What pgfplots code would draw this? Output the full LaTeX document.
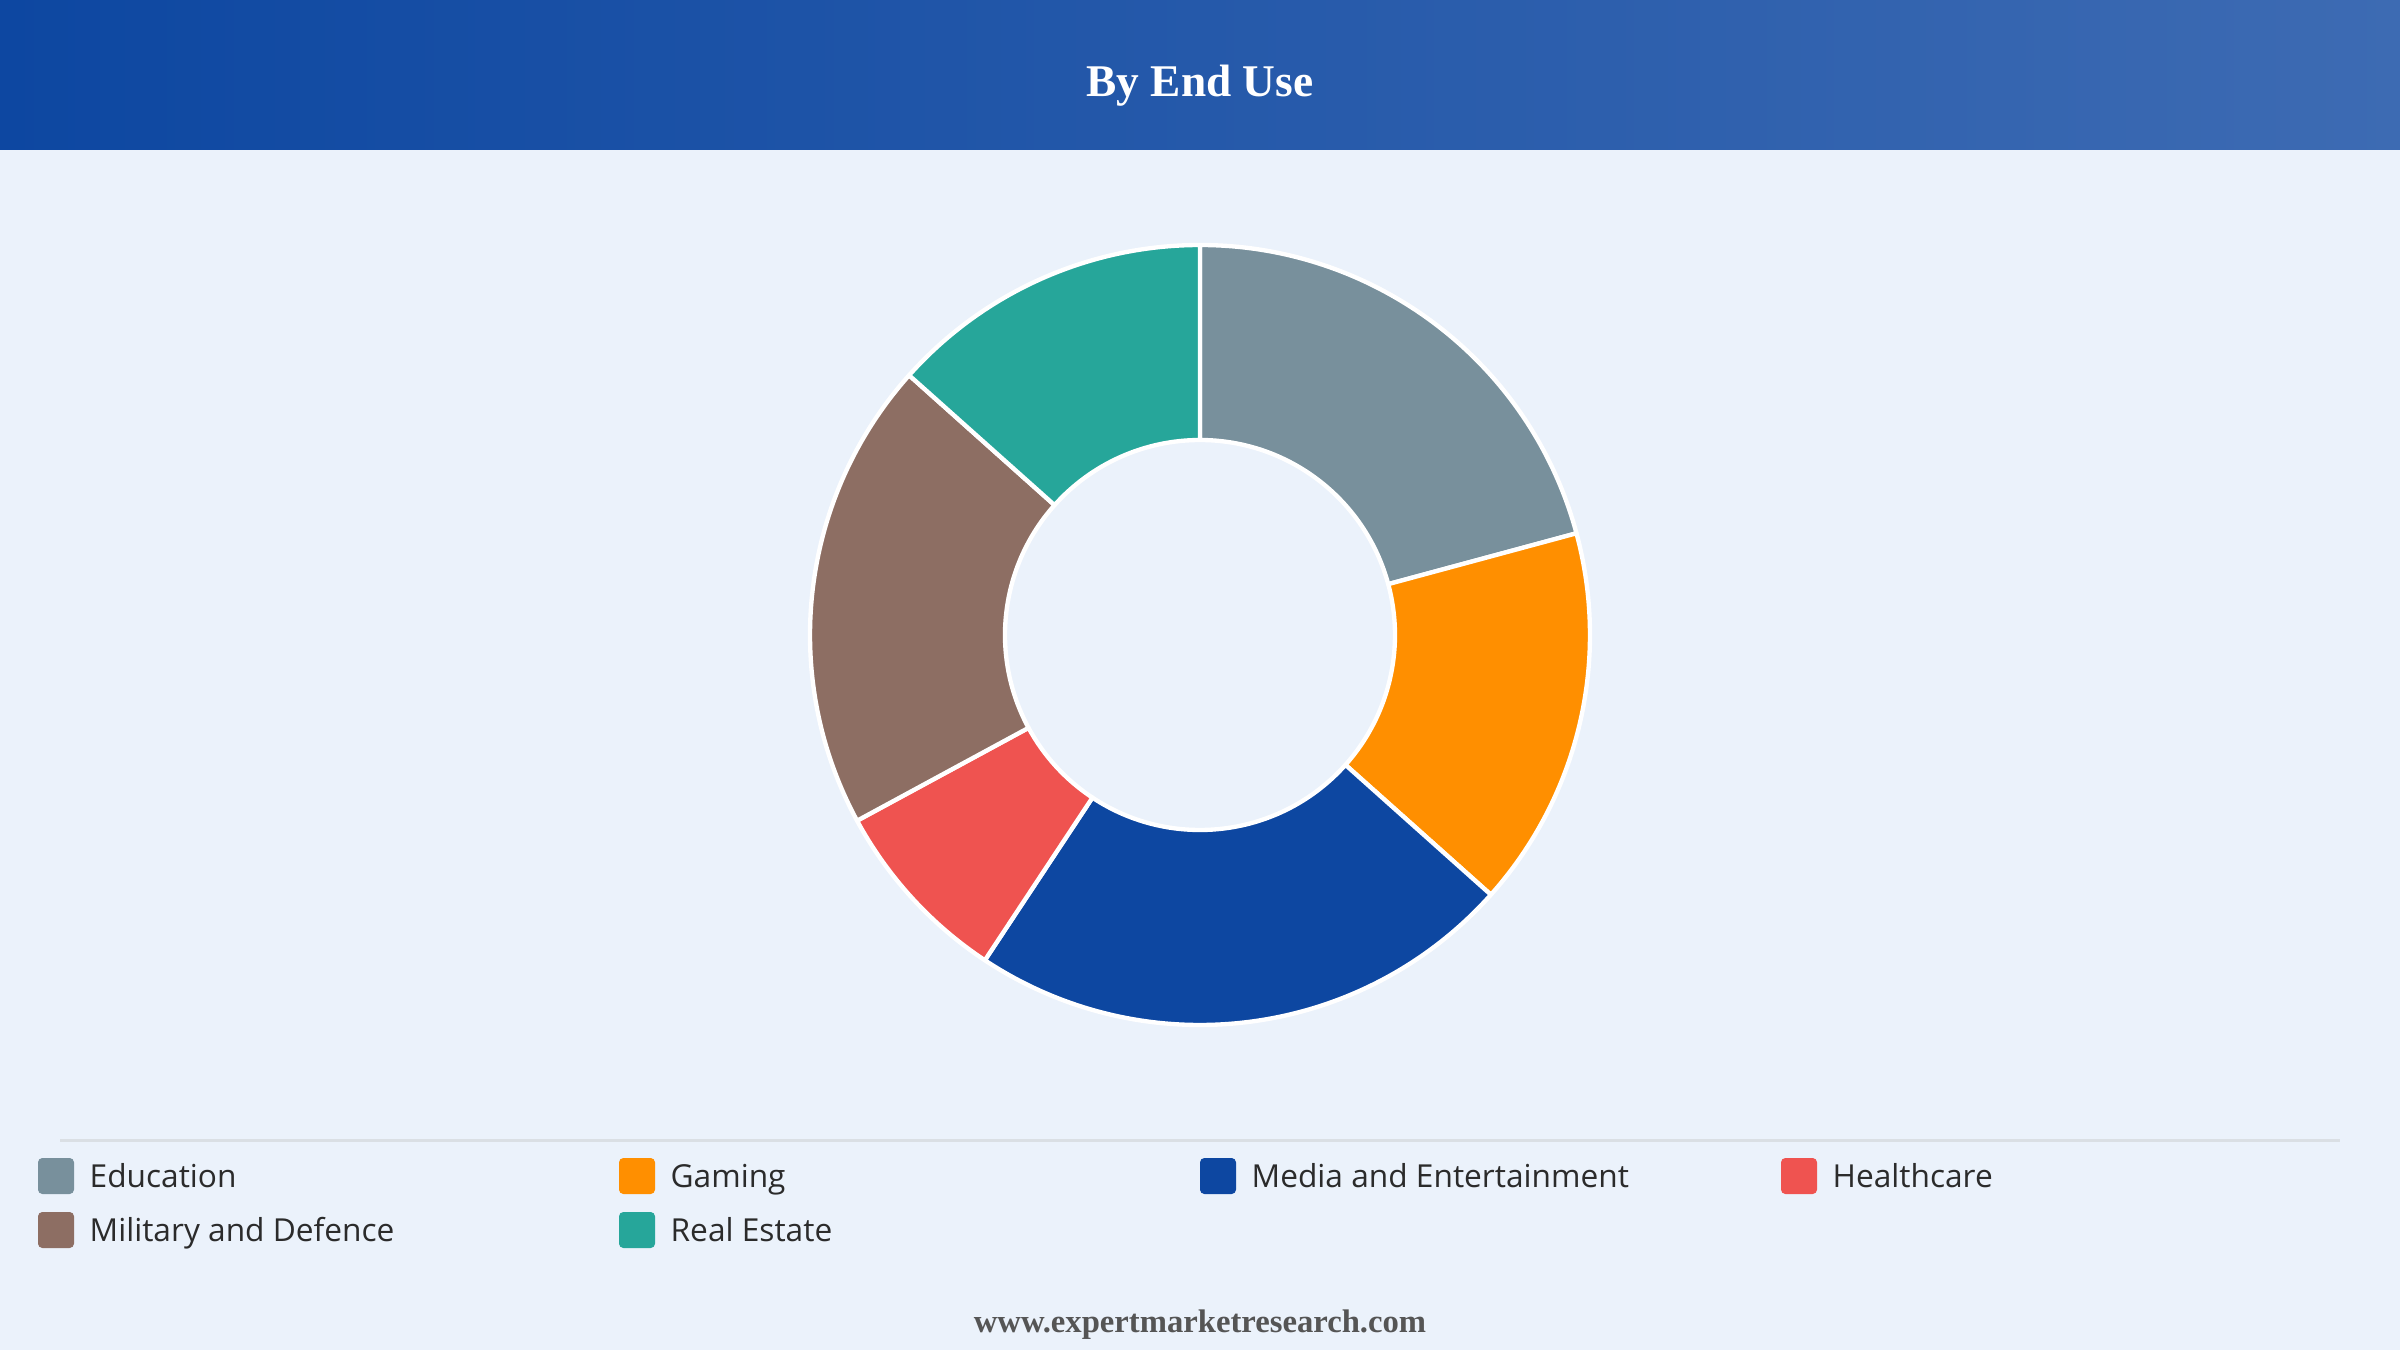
\documentclass[border=0pt]{standalone}
\usepackage{pgfplots}
\usepackage{pgfplotstable}
\pgfplotsset{compat=1.18}
\usepackage{fontspec}
\setmainfont{Liberation Serif}
\newfontfamily\legfont{Open Sans}

\definecolor{bgpage}{HTML}{EBF2FB}
\definecolor{headL}{HTML}{0D47A1}
\definecolor{headR}{HTML}{3D6BB3}
\definecolor{rule}{HTML}{DADFE4}
\definecolor{legtext}{HTML}{2B2B2B}
\definecolor{foot}{HTML}{555555}
\definecolor{seg0}{HTML}{78909C}
\definecolor{seg1}{HTML}{FF8F00}
\definecolor{seg2}{HTML}{0D47A1}
\definecolor{seg3}{HTML}{EF5350}
\definecolor{seg4}{HTML}{8D6E63}
\definecolor{seg5}{HTML}{26A69A}

% share of each end use, in percent
\pgfplotstableread[col sep=comma]{
label,value
Education,20.8
Gaming,15.8
Media and Entertainment,22.7
Healthcare,7.8
Military and Defence,19.5
Real Estate,13.4
}\enduse

% one ring sector: start angle, end angle, colour
\newcommand\sector[3]{%
  \fill[#3, draw=white, line width=1.3pt, line join=round]
    (axis cs:{cos(#1)},{sin(#1)}) arc[start angle=#1, end angle=#2, radius=117pt]
    -- (axis cs:{0.5*cos(#2)},{0.5*sin(#2)}) arc[start angle=#2, end angle=#1, radius=58.5pt]
    -- cycle;}

\begin{document}
\begin{tikzpicture}
% page, header, rule (1 unit = 1 px of the 2400x1350 image)
\begin{scope}[x=0.3pt, y=-0.3pt]
  \useasboundingbox (0,0) rectangle (2400,1350);
  \fill[bgpage] (0,0) rectangle (2400,1350);
  \shade[left color=headL, right color=headR] (0,0) rectangle (2400,150);
  \node[anchor=base, text=white, font=\fontsize{13.6}{16}\selectfont\bfseries] at (1200,97) {By End Use};
  \draw[rule, line width=0.9pt] (60,1140) -- (2340,1140);
  \node[anchor=base, text=foot, font=\fontsize{9.8}{12}\selectfont\bfseries] at (1200,1332) {www.expertmarketresearch.com};
\end{scope}

% cumulative angles, clockwise from 12 o'clock
\xdef\acc{90}
\foreach \i in {0,...,5}{%
  \pgfplotstablegetelem{\i}{value}\of\enduse
  \pgfmathsetmacro\nxt{\acc-3.6*\pgfplotsretval}%
  \expandafter\xdef\csname a\i\endcsname{\acc}%
  \expandafter\xdef\csname b\i\endcsname{\nxt}%
  \xdef\acc{\nxt}%
}

\begin{axis}[
  at={(360pt,-190.5pt)}, anchor=center,
  width=234pt, height=234pt, scale only axis,
  xmin=-1, xmax=1, ymin=-1, ymax=1,
  hide axis, clip=false,
]
  \pgfplotsinvokeforeach{0,...,5}{%
    \edef\tmp{\noexpand\sector{\csname a#1\endcsname}{\csname b#1\endcsname}{seg#1}}\tmp
  }
\end{axis}

% legend
\begin{scope}[x=0.3pt, y=-0.3pt]
  \foreach \i/\xx/\yy in {0/38/1176, 1/619/1176, 2/1200/1176, 3/1781/1176, 4/38/1230, 5/619/1230}{%
    \pgfplotstablegetelem{\i}{label}\of\enduse
    \let\lab\pgfplotsretval
    \fill[seg\i, rounded corners=1.3pt] (\xx,\yy-18) rectangle ++(36,36);
    \node[anchor=base west, inner sep=0pt, text=legtext, font=\legfont\fontsize{9.5}{11}\selectfont] at (\xx+51,\yy+11) {\lab};
  }
\end{scope}
\end{tikzpicture}
\end{document}
